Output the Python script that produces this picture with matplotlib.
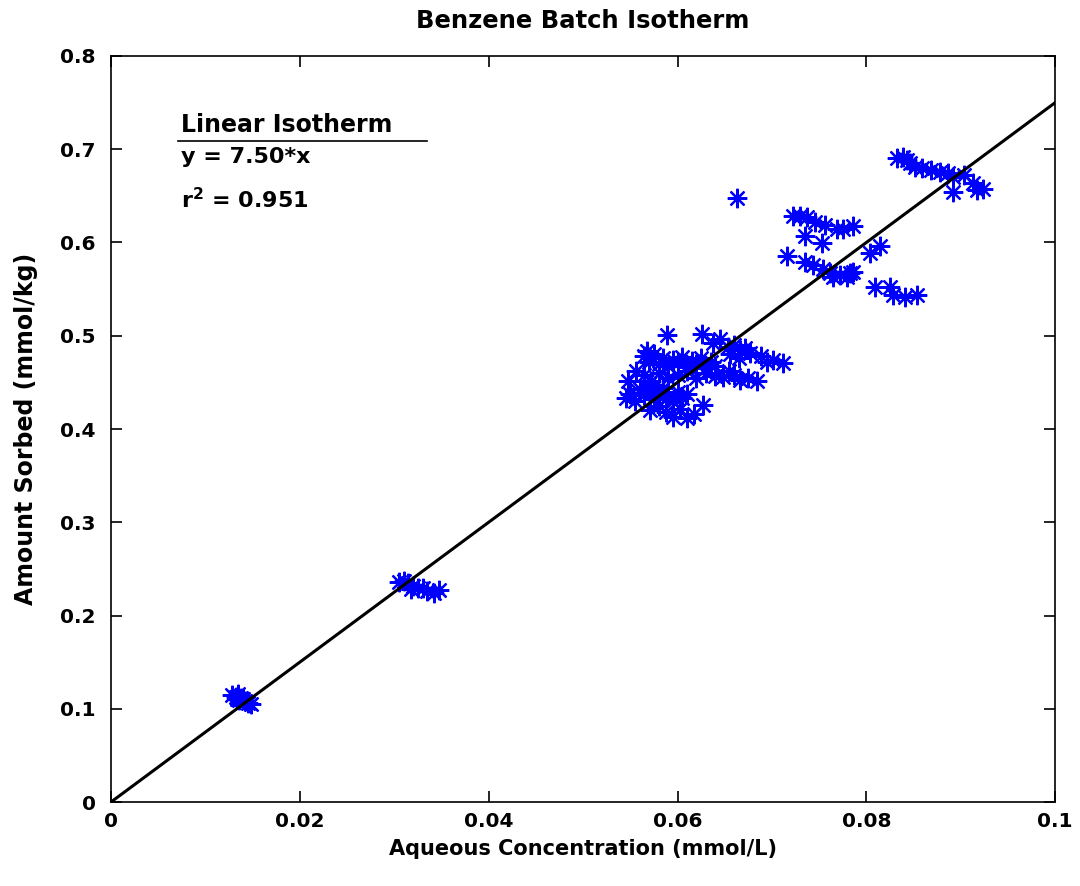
import numpy as np
from matplotlib import pyplot as plt

plt.rcParams['font.family'] = ['DejaVu Sans']
plt.rcParams['font.weight'] = 'bold'
plt.rcParams['mathtext.default'] = 'bf'

# Batch sorption data: aqueous concentration (mmol/L) vs amount sorbed (mmol/kg)
c_low = [0.0128, 0.0132, 0.0135, 0.0138, 0.0140, 0.0142, 0.0145, 0.0148, 0.0133, 0.0136]
q_low = [0.115, 0.113, 0.116, 0.112, 0.110, 0.108, 0.106, 0.105, 0.110, 0.109]

c_mid1 = [0.0305, 0.0310, 0.0315, 0.0320, 0.0325, 0.0330, 0.0335, 0.0342, 0.0347, 0.0318]
q_mid1 = [0.236, 0.237, 0.235, 0.232, 0.230, 0.229, 0.226, 0.224, 0.227, 0.228]

c_mid2 = [0.0565, 0.0570, 0.0575, 0.0580, 0.0585, 0.0590, 0.0595, 0.0600, 0.0605, 0.0610,
          0.0615, 0.0620, 0.0625, 0.0630, 0.0635, 0.0640,
          0.0565, 0.0572, 0.0580, 0.0590, 0.0600, 0.0610, 0.0620, 0.0630, 0.0640, 0.0648,
          0.0655, 0.0666, 0.0675, 0.0684, 0.0660,
          0.0545, 0.0550, 0.0555, 0.0560, 0.0565, 0.0570, 0.0575, 0.0580, 0.0585, 0.0590,
          0.0595, 0.0600, 0.0605, 0.0610,
          0.0571, 0.0580, 0.0588, 0.0595, 0.0603, 0.0610, 0.0617, 0.0627,
          0.0638, 0.0645, 0.0653, 0.0660, 0.0666, 0.0672, 0.0677, 0.0688, 0.0695, 0.0701,
          0.0712, 0.0656, 0.0665,
          0.0589, 0.0626, 0.0548, 0.0556, 0.0568, 0.0570]
q_mid2 = [0.478, 0.472, 0.480, 0.470, 0.476, 0.468, 0.474, 0.471, 0.477, 0.466,
          0.473, 0.470, 0.476, 0.465, 0.472, 0.468,
          0.458, 0.452, 0.460, 0.455, 0.458, 0.462, 0.455, 0.460, 0.457, 0.456,
          0.462, 0.453, 0.455, 0.451, 0.458,
          0.433, 0.438, 0.430, 0.443, 0.436, 0.441, 0.432, 0.438, 0.444, 0.435,
          0.430, 0.440, 0.433, 0.437,
          0.420, 0.425, 0.418, 0.413, 0.421, 0.412, 0.416, 0.426,
          0.492, 0.496, 0.488, 0.490, 0.485, 0.487, 0.481, 0.478, 0.472, 0.474,
          0.471, 0.480, 0.476,
          0.501, 0.502, 0.452, 0.462, 0.484, 0.448]

c_high = [0.0663, 0.0722, 0.0730, 0.0737, 0.0746, 0.0756, 0.0769, 0.0775, 0.0786,
          0.0735, 0.0753, 0.0716, 0.0735, 0.0744, 0.0754, 0.0762, 0.0765, 0.0772, 0.0783,
          0.0786, 0.0780,
          0.0804, 0.0815, 0.0809, 0.0825, 0.0828, 0.0841, 0.0854,
          0.0833, 0.0839, 0.0843, 0.0846, 0.0852, 0.0859, 0.0868, 0.0878, 0.0886, 0.0892,
          0.0903, 0.0892, 0.0913, 0.0917, 0.0924]
q_high = [0.648, 0.628, 0.628, 0.627, 0.622, 0.619, 0.614, 0.614, 0.618,
          0.607, 0.599, 0.585, 0.579, 0.576, 0.572, 0.567, 0.563, 0.565, 0.567,
          0.568, 0.563,
          0.589, 0.596, 0.552, 0.552, 0.544, 0.542, 0.544,
          0.691, 0.692, 0.689, 0.685, 0.681, 0.680, 0.678, 0.676, 0.674, 0.670,
          0.672, 0.654, 0.664, 0.656, 0.657]

conc = np.array(c_low + c_mid1 + c_mid2 + c_high)
sorbed = np.array(q_low + q_mid1 + q_mid2 + q_high)

kd = 7.50
r2 = 0.951
x_fit = np.array([0.0, 0.1])

fig = plt.figure(figsize=(10.8, 8.86), dpi=100)
ax = fig.add_axes([0.1028, 0.0948, 0.8742, 0.842])

ax.plot(conc, sorbed, linestyle='none', marker=(8, 2, 0), markersize=14,
        markeredgewidth=1.6, color='#0000ff')
ax.plot(x_fit, kd * x_fit, color='black', linewidth=2.2)

ax.set_xlim(0, 0.1)
ax.set_ylim(0, 0.8)
ax.set_xticks([0, 0.02, 0.04, 0.06, 0.08, 0.1])
ax.set_xticklabels(['0', '0.02', '0.04', '0.06', '0.08', '0.1'])
ax.set_yticks(np.arange(0, 0.81, 0.1))
ax.set_yticklabels(['0', '0.1', '0.2', '0.3', '0.4', '0.5', '0.6', '0.7', '0.8'])
ax.tick_params(direction='in', length=8, width=1.2, top=True, right=True,
               labelsize=14.5)
ax.tick_params(axis='x', pad=7)
ax.tick_params(axis='y', pad=11)
for spine in ax.spines.values():
    spine.set_linewidth(1.2)

ax.set_title('Benzene Batch Isotherm', fontsize=17.5, fontweight='bold', pad=20)
ax.set_xlabel('Aqueous Concentration (mmol/L)', fontsize=15, fontweight='bold', labelpad=6)
ax.set_ylabel('Amount Sorbed (mmol/kg)', fontsize=17, fontweight='bold', labelpad=16)

# fit annotation box
ax.text(0.0074, 0.713, 'Linear Isotherm', fontsize=17, fontweight='bold',
        va='bottom', ha='left')
ax.plot([0.0071, 0.0335], [0.709, 0.709], color='black', linewidth=1.2)
ax.text(0.0074, 0.702, 'y = %.2f*x' % kd, fontsize=16, fontweight='bold',
        va='top', ha='left')
ax.text(0.0074, 0.660, r'r$^{2}$ = %.3f' % r2, fontsize=16, fontweight='bold',
        va='top', ha='left')

fig.savefig('out.png', dpi=100)
